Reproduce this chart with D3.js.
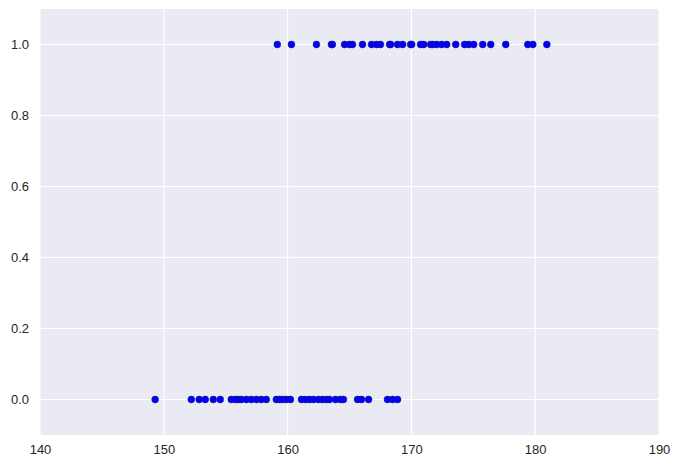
<!DOCTYPE html>
<html><head><meta charset="utf-8">
<script src="https://cdn.jsdelivr.net/npm/d3@7"></script>
<style>body{margin:0;background:#fff;}svg{display:block;}</style>
</head><body>
<script>
const heightsPos = [159.17,160.31,162.33,163.54,163.62,164.6,165.0,165.24,166.05,166.78,167.18,167.5,168.24,168.32,168.88,169.29,169.94,170.02,170.74,170.99,171.55,171.72,172.04,172.44,172.85,173.58,174.3,174.63,175.03,175.76,176.41,177.62,179.4,179.81,180.94];
const heightsNeg = [149.3,152.22,152.86,153.35,154.0,154.56,155.45,155.78,156.02,156.26,156.67,157.07,157.48,157.88,158.28,159.09,159.34,159.58,159.9,160.23,161.12,161.44,161.76,162.09,162.49,162.82,163.14,163.38,163.87,164.27,164.51,165.65,165.97,166.54,168.07,168.48,168.88];
const xTicks = [140,150,160,170,180,190];
const yTicks = [0.0,0.2,0.4,0.6,0.8,1.0];

const W = 680, H = 469;
const m = {left:40, right:21, top:9, bottom:34};
const svg = d3.select("body").append("svg").attr("width",W).attr("height",H);
const x = d3.scaleLinear().domain([140,190]).range([m.left, W-m.right]);
const y = d3.scaleLinear().domain([-0.1,1.1]).range([H-m.bottom, m.top]);

svg.append("rect").attr("x",m.left).attr("y",m.top)
  .attr("width",W-m.left-m.right).attr("height",H-m.top-m.bottom).attr("fill","#EAEAF2");

const g = svg.append("g");
g.selectAll(".gx").data(xTicks).join("line")
  .attr("x1",d=>x(d)).attr("x2",d=>x(d)).attr("y1",m.top).attr("y2",H-m.bottom)
  .attr("stroke","#fff").attr("stroke-width",1.2);
g.selectAll(".gy").data(yTicks).join("line")
  .attr("y1",d=>y(d)).attr("y2",d=>y(d)).attr("x1",m.left).attr("x2",W-m.right)
  .attr("stroke","#fff").attr("stroke-width",1.2);

const xAxis = d3.axisBottom(x).tickValues(xTicks).tickSize(0).tickPadding(10).tickFormat(d3.format("d"));
const yAxis = d3.axisLeft(y).tickValues(yTicks).tickSize(0).tickPadding(11).tickFormat(d3.format(".1f"));
const ax = svg.append("g").attr("transform",`translate(0,${H-m.bottom})`).call(xAxis);
const ay = svg.append("g").attr("transform",`translate(${m.left},0)`).call(yAxis);
[ax,ay].forEach(a=>{
  a.select(".domain").remove();
  a.selectAll("text").attr("fill","#262626").style("font-family","'Liberation Sans', Arial, sans-serif").style("font-size","13px");
});

const pts = heightsNeg.map(v=>({h:v,c:0})).concat(heightsPos.map(v=>({h:v,c:1})));
svg.append("g").selectAll("circle").data(pts).join("circle")
  .attr("cx",d=>x(d.h)).attr("cy",d=>y(d.c)).attr("r",3.4)
  .attr("fill","#0000ff").attr("stroke","#1a1a6e").attr("stroke-width",0.6);
</script>
</body></html>
